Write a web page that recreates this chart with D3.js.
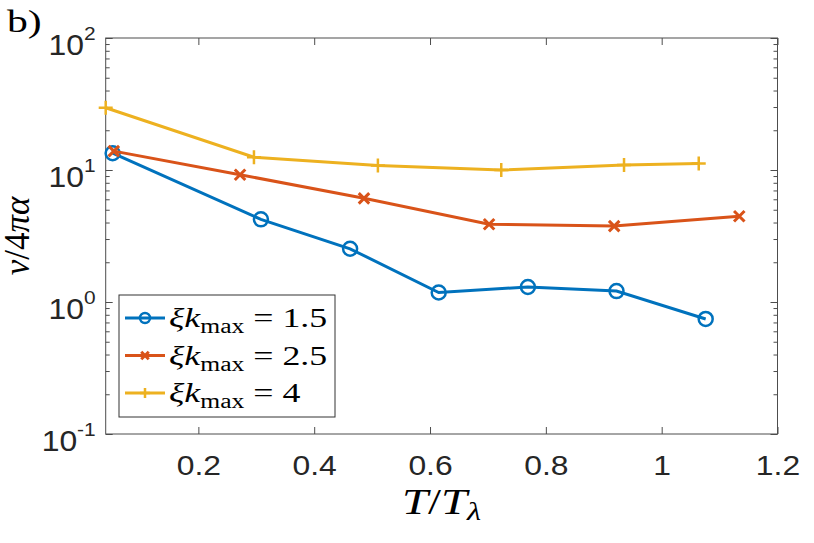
<!DOCTYPE html>
<html>
<head>
<meta charset="utf-8">
<script src="https://cdn.jsdelivr.net/npm/d3@7"></script>
<style>
  body { margin: 0; background: #fff; }
  svg { display: block; }
</style>
</head>
<body>
<div id="chart"></div>
<script>
// series data
const labels = ["1.5", "2.5", "4"];
const colors = ["#0072BD", "#D95319", "#EDB120"];
const markers = ["circle", "cross", "plus"];

const T15 = [0.052, 0.308, 0.462, 0.615, 0.769, 0.922, 1.076];
const nu15 = [13.4, 4.23, 2.53, 1.18, 1.30, 1.21, 0.744];

const T25 = [0.054, 0.272, 0.486, 0.702, 0.918, 1.134];
const nu25 = [13.9, 9.21, 6.1, 3.88, 3.76, 4.46];

const T4 = [0.04, 0.296, 0.51, 0.723, 0.935, 1.064];
const nu4 = [29.6, 12.5, 10.8, 10.0, 10.9, 11.2];

const xTicks = [0.2, 0.4, 0.6, 0.8, 1, 1.2];
const yExps = [-1, 0, 1, 2];

const series = [
  {T: T15, nu: nu15},
  {T: T25, nu: nu25},
  {T: T4, nu: nu4}
];

const SANS = "'Liberation Sans', Arial, sans-serif";
const SERIF = "'Liberation Serif', 'Times New Roman', 'DejaVu Serif', serif";

const svgWidth = 814, svgHeight = 543;
const margin = {top: 38, right: 36.5, bottom: 109, left: 105.7};
const chartWidth = svgWidth - margin.left - margin.right;
const chartHeight = svgHeight - margin.top - margin.bottom;

const svg = d3.select("#chart").append("svg")
  .attr("width", svgWidth)
  .attr("height", svgHeight);

const chartGroup = svg.append("g")
  .attr("transform", `translate(${margin.left}, ${margin.top})`);

const xScale = d3.scaleLinear().domain([0.04, 1.2]).range([0, chartWidth]);
const yScale = d3.scaleLog().domain([0.1, 100]).range([chartHeight, 0]);

// minor log ticks 2..9 of each decade
const minor = [];
yExps.slice(0, -1).forEach(e => {
  for (let k = 2; k <= 9; k++) minor.push(k * Math.pow(10, e));
});
const major = yExps.map(e => Math.pow(10, e));

const axisColor = "#4d4d4d";

// bottom axis with labels
const xAxis = chartGroup.append("g")
  .attr("transform", `translate(0, ${chartHeight})`)
  .call(d3.axisBottom(xScale).tickValues(xTicks).tickSizeInner(-7).tickSizeOuter(0)
    .tickPadding(22).tickFormat(d3.format("")));
xAxis.selectAll("text")
  .attr("font-size", 27)
  .attr("font-family", SANS)
  .attr("fill", "#262626")
  .attr("transform", "scale(1.18,1)");

// top axis
chartGroup.append("g")
  .call(d3.axisTop(xScale).tickValues(xTicks).tickSizeInner(-7).tickSizeOuter(0).tickFormat(""));

// left / right axes, major + minor
[[d3.axisLeft, 0], [d3.axisRight, chartWidth]].forEach(([ax, tx]) => {
  chartGroup.append("g").attr("transform", `translate(${tx},0)`)
    .call(ax(yScale).tickValues(major).tickSizeInner(-7).tickSizeOuter(0).tickFormat(""));
  chartGroup.append("g").attr("transform", `translate(${tx},0)`)
    .call(ax(yScale).tickValues(minor).tickSizeInner(-4).tickSizeOuter(0).tickFormat(""));
});

chartGroup.selectAll(".domain").remove();
chartGroup.selectAll(".tick line").attr("stroke", axisColor);

// box
chartGroup.append("rect")
  .attr("width", chartWidth).attr("height", chartHeight)
  .attr("fill", "none").attr("stroke", axisColor).attr("stroke-width", 1);

// y tick labels 10^e
yExps.forEach(e => {
  const t = chartGroup.append("text")
    .attr("transform", `translate(-10, ${yScale(Math.pow(10, e)) + 17}) scale(1.1,1)`)
    .attr("text-anchor", "end")
    .attr("font-family", SANS)
    .attr("fill", "#262626");
  t.append("tspan").attr("font-size", 29).text("10");
  t.append("tspan").attr("font-size", 19).attr("dy", -15).text(e);
});

// lines and markers
const line = d3.line().x(d => xScale(d[0])).y(d => yScale(d[1]));

function drawMarker(g, type, color, size) {
  if (type === "circle") {
    g.append("circle").attr("r", size).attr("fill", "none")
      .attr("stroke", color).attr("stroke-width", 2.5);
  } else if (type === "cross") {
    const s = size * 0.75;
    g.append("path").attr("d", `M${-s},${-s}L${s},${s}M${-s},${s}L${s},${-s}`)
      .attr("stroke", color).attr("stroke-width", 3).attr("fill", "none");
  } else {
    const s = size;
    g.append("path").attr("d", `M${-s},0L${s},0M0,${-s}L0,${s}`)
      .attr("stroke", color).attr("stroke-width", 2.5).attr("fill", "none");
  }
}

series.forEach((s, i) => {
  const pts = s.T.map((t, j) => [t, s.nu[j]]);
  chartGroup.append("path")
    .datum(pts)
    .attr("d", line)
    .attr("fill", "none")
    .attr("stroke", colors[i])
    .attr("stroke-width", 3);
  pts.forEach(p => {
    const g = chartGroup.append("g")
      .attr("transform", `translate(${xScale(p[0])}, ${yScale(p[1])})`);
    drawMarker(g, markers[i], colors[i], 7);
  });
});

// legend
const legend = svg.append("g").attr("transform", "translate(119, 295)");
legend.append("rect").attr("width", 216).attr("height", 122)
  .attr("fill", "#fff").attr("stroke", "#333").attr("stroke-width", 1);
labels.forEach((lab, i) => {
  const yy = 23 + i * 37.5;
  legend.append("line").attr("x1", 6).attr("x2", 46).attr("y1", yy).attr("y2", yy)
    .attr("stroke", colors[i]).attr("stroke-width", 3);
  const g = legend.append("g").attr("transform", `translate(26, ${yy})`);
  drawMarker(g, markers[i], colors[i], 5);
  const t = legend.append("text")
    .attr("transform", `translate(50, ${yy + 9}) scale(1.28,1)`)
    .attr("font-family", SERIF).attr("fill", "#000").attr("font-size", 28);
  t.append("tspan").attr("font-style", "italic").text("ξk");
  t.append("tspan").attr("font-size", 20).attr("dy", 6).text("max");
  t.append("tspan").attr("dy", -6).text(" = " + lab);
});

// axis labels
const xl = svg.append("text")
  .attr("transform", `translate(${margin.left + chartWidth / 2}, 514) scale(1.3,1)`)
  .attr("font-family", SERIF).attr("fill", "#000")
  .attr("text-anchor", "middle").attr("font-size", 36);
xl.append("tspan").attr("font-style", "italic").text("T");
xl.append("tspan").text("/");
xl.append("tspan").attr("font-style", "italic").text("T");
xl.append("tspan").attr("font-style", "italic").attr("font-size", 25).attr("dy", 6).text("λ");

const yl = svg.append("text")
  .attr("transform", `translate(29, ${margin.top + chartHeight / 2}) rotate(-90)`)
  .attr("font-family", SERIF).attr("fill", "#000")
  .attr("text-anchor", "middle").attr("font-size", 35);
yl.append("tspan").attr("font-style", "italic").text("ν");
yl.append("tspan").text("/4");
yl.append("tspan").attr("font-style", "italic").text("πα");

svg.append("text")
  .attr("transform", "translate(7, 32) scale(1.3,1)")
  .attr("font-family", SERIF).attr("fill", "#000")
  .attr("font-size", 32).text("b)");
</script>
</body>
</html>
